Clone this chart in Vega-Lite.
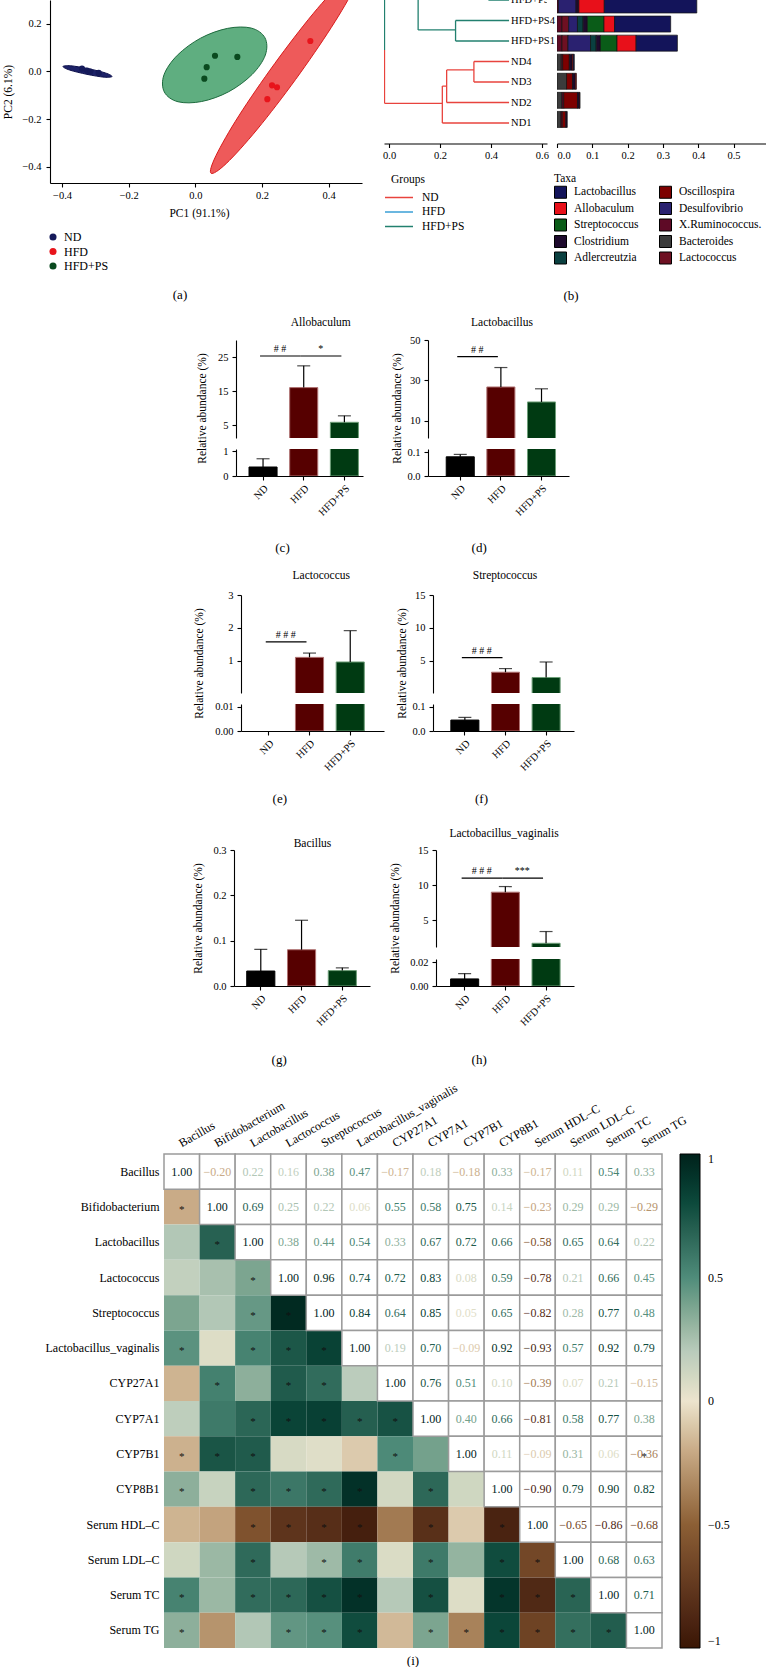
{
"$schema": "https://vega.github.io/schema/vega-lite/v6.json",
"padding": {"left": 0, "top": 0, "right": 0, "bottom": 0},
"config": {
 "font": "Liberation Serif",
 "view": {"stroke": null},
 "axis": {"labelFont": "Liberation Serif", "titleFont": "Liberation Serif", "labelFontSize": 10.5, "titleFontSize": 11.5, "titleFontWeight": "normal", "labelColor": "#000", "titleColor": "#000", "domainColor": "#000", "tickColor": "#000", "grid": false, "tickSize": 4, "labelPadding": 3, "titlePadding": 5, "domainWidth": 1.1, "tickWidth": 1.1},
 "legend": {"labelFont": "Liberation Serif", "titleFont": "Liberation Serif", "titleFontWeight": "normal", "labelFontSize": 11.5, "titleFontSize": 11.5, "labelColor": "#000", "titleColor": "#000"},
 "title": {"font": "Liberation Serif", "fontWeight": "normal", "fontSize": 13, "color": "#000"},
 "text": {"font": "Liberation Serif", "color": "#000"}
},
"datasets": {
 "pca": [
  {"g": "ND", "x": -0.34, "y": 0.012}, {"g": "ND", "x": -0.325, "y": 0.004}, {"g": "ND", "x": -0.315, "y": 0.0}, {"g": "ND", "x": -0.29, "y": -0.006},
  {"g": "HFD", "x": 0.216, "y": -0.116}, {"g": "HFD", "x": 0.23, "y": -0.058}, {"g": "HFD", "x": 0.245, "y": -0.066}, {"g": "HFD", "x": 0.345, "y": 0.128},
  {"g": "HFD+PS", "x": 0.027, "y": -0.03}, {"g": "HFD+PS", "x": 0.034, "y": 0.018}, {"g": "HFD+PS", "x": 0.059, "y": 0.066}, {"g": "HFD+PS", "x": 0.126, "y": 0.061}
 ],
 "ell": [
  {"g": "ND", "i": 0, "x": -0.25, "y": -0.021}, {"g": "ND", "i": 1, "x": -0.273, "y": -0.024}, {"g": "ND", "i": 2, "x": -0.325, "y": -0.012}, {"g": "ND", "i": 3, "x": -0.377, "y": 0.006},
  {"g": "ND", "i": 4, "x": -0.397, "y": 0.021}, {"g": "ND", "i": 5, "x": -0.374, "y": 0.024}, {"g": "ND", "i": 6, "x": -0.322, "y": 0.012}, {"g": "ND", "i": 7, "x": -0.27, "y": -0.006},
  {"g": "HFD", "i": 0, "x": 0.492, "y": 0.427}, {"g": "HFD", "i": 1, "x": 0.478, "y": 0.353}, {"g": "HFD", "i": 2, "x": 0.408, "y": 0.185}, {"g": "HFD", "i": 3, "x": 0.301, "y": -0.033},
  {"g": "HFD", "i": 4, "x": 0.186, "y": -0.242}, {"g": "HFD", "i": 5, "x": 0.093, "y": -0.386}, {"g": "HFD", "i": 6, "x": 0.047, "y": -0.427}, {"g": "HFD", "i": 7, "x": 0.062, "y": -0.353},
  {"g": "HFD", "i": 8, "x": 0.131, "y": -0.185}, {"g": "HFD", "i": 9, "x": 0.238, "y": 0.033}, {"g": "HFD", "i": 10, "x": 0.353, "y": 0.242}, {"g": "HFD", "i": 11, "x": 0.447, "y": 0.386},
  {"g": "HFD+PS", "i": 0, "x": 0.209, "y": 0.141}, {"g": "HFD+PS", "i": 1, "x": 0.21, "y": 0.069}, {"g": "HFD+PS", "i": 2, "x": 0.17, "y": -0.013}, {"g": "HFD+PS", "i": 3, "x": 0.1, "y": -0.085},
  {"g": "HFD+PS", "i": 4, "x": 0.019, "y": -0.126}, {"g": "HFD+PS", "i": 5, "x": -0.052, "y": -0.127}, {"g": "HFD+PS", "i": 6, "x": -0.093, "y": -0.086}, {"g": "HFD+PS", "i": 7, "x": -0.094, "y": -0.014},
  {"g": "HFD+PS", "i": 8, "x": -0.054, "y": 0.068}, {"g": "HFD+PS", "i": 9, "x": 0.016, "y": 0.14}, {"g": "HFD+PS", "i": 10, "x": 0.097, "y": 0.181}, {"g": "HFD+PS", "i": 11, "x": 0.168, "y": 0.182}
 ],
 "dend": [
  {"grp": "ND", "x": -0.018, "x2": -0.018, "y": 1.96, "y2": 4.56},
  {"grp": "ND", "x": -0.018, "x2": 0.209, "y": 1.96, "y2": 1.96},
  {"grp": "ND", "x": 0.209, "x2": 0.209, "y": 1, "y2": 2.8},
  {"grp": "ND", "x": 0.209, "x2": 0.471, "y": 1, "y2": 1},
  {"grp": "ND", "x": 0.209, "x2": 0.226, "y": 2.8, "y2": 2.8},
  {"grp": "ND", "x": 0.226, "x2": 0.226, "y": 2, "y2": 3.59},
  {"grp": "ND", "x": 0.226, "x2": 0.471, "y": 2, "y2": 2},
  {"grp": "ND", "x": 0.226, "x2": 0.333, "y": 3.59, "y2": 3.59},
  {"grp": "ND", "x": 0.333, "x2": 0.333, "y": 3, "y2": 4},
  {"grp": "ND", "x": 0.333, "x2": 0.471, "y": 3, "y2": 3},
  {"grp": "ND", "x": 0.333, "x2": 0.471, "y": 4, "y2": 4},
  {"grp": "HFD+PS", "x": -0.018, "x2": -0.018, "y": 4.56, "y2": 8},
  {"grp": "HFD+PS", "x": 0.114, "x2": 0.114, "y": 5.54, "y2": 8},
  {"grp": "HFD+PS", "x": 0.114, "x2": 0.261, "y": 5.54, "y2": 5.54},
  {"grp": "HFD+PS", "x": 0.261, "x2": 0.261, "y": 5, "y2": 6},
  {"grp": "HFD+PS", "x": 0.261, "x2": 0.471, "y": 5, "y2": 5},
  {"grp": "HFD+PS", "x": 0.261, "x2": 0.471, "y": 6, "y2": 6},
  {"grp": "HFD+PS", "x": 0.39, "x2": 0.471, "y": 7, "y2": 7}
 ],
 "leaves": [
  {"s": "HFD+PS2", "r": 7, "x": 0.471}, {"s": "HFD+PS4", "r": 6, "x": 0.471}, {"s": "HFD+PS1", "r": 5, "x": 0.471},
  {"s": "ND4", "r": 4, "x": 0.471}, {"s": "ND3", "r": 3, "x": 0.471}, {"s": "ND2", "r": 2, "x": 0.471}, {"s": "ND1", "r": 1, "x": 0.471}
 ],
 "taxa": [
  {"s": "ND1", "r": 1, "t": "Bacteroides", "a": 0.011, "k": 0}, {"s": "ND1", "r": 1, "t": "X.Ruminococcus.", "a": 0.004, "k": 1}, {"s": "ND1", "r": 1, "t": "Oscillospira", "a": 0.01, "k": 3}, {"s": "ND1", "r": 1, "t": "Clostridium", "a": 0.004, "k": 6},
  {"s": "ND2", "r": 2, "t": "Bacteroides", "a": 0.014, "k": 0}, {"s": "ND2", "r": 2, "t": "X.Ruminococcus.", "a": 0.005, "k": 1}, {"s": "ND2", "r": 2, "t": "Oscillospira", "a": 0.039, "k": 3}, {"s": "ND2", "r": 2, "t": "Clostridium", "a": 0.006, "k": 6}, {"s": "ND2", "r": 2, "t": "Allobaculum", "a": 0.001, "k": 8},
  {"s": "ND3", "r": 3, "t": "Bacteroides", "a": 0.027, "k": 0}, {"s": "ND3", "r": 3, "t": "Oscillospira", "a": 0.017, "k": 3}, {"s": "ND3", "r": 3, "t": "Clostridium", "a": 0.008, "k": 6}, {"s": "ND3", "r": 3, "t": "Allobaculum", "a": 0.003, "k": 8},
  {"s": "ND4", "r": 4, "t": "Bacteroides", "a": 0.012, "k": 0}, {"s": "ND4", "r": 4, "t": "X.Ruminococcus.", "a": 0.004, "k": 1}, {"s": "ND4", "r": 4, "t": "Oscillospira", "a": 0.019, "k": 3}, {"s": "ND4", "r": 4, "t": "Clostridium", "a": 0.008, "k": 6}, {"s": "ND4", "r": 4, "t": "Allobaculum", "a": 0.003, "k": 8}, {"s": "ND4", "r": 4, "t": "Lactobacillus", "a": 0.003, "k": 9},
  {"s": "HFD+PS1", "r": 5, "t": "X.Ruminococcus.", "a": 0.014, "k": 1}, {"s": "HFD+PS1", "r": 5, "t": "Lactococcus", "a": 0.017, "k": 2}, {"s": "HFD+PS1", "r": 5, "t": "Desulfovibrio", "a": 0.064, "k": 4}, {"s": "HFD+PS1", "r": 5, "t": "Adlercreutzia", "a": 0.016, "k": 5}, {"s": "HFD+PS1", "r": 5, "t": "Clostridium", "a": 0.012, "k": 6}, {"s": "HFD+PS1", "r": 5, "t": "Streptococcus", "a": 0.047, "k": 7}, {"s": "HFD+PS1", "r": 5, "t": "Allobaculum", "a": 0.054, "k": 8}, {"s": "HFD+PS1", "r": 5, "t": "Lactobacillus", "a": 0.117, "k": 9},
  {"s": "HFD+PS4", "r": 6, "t": "X.Ruminococcus.", "a": 0.014, "k": 1}, {"s": "HFD+PS4", "r": 6, "t": "Lactococcus", "a": 0.019, "k": 2}, {"s": "HFD+PS4", "r": 6, "t": "Desulfovibrio", "a": 0.025, "k": 4}, {"s": "HFD+PS4", "r": 6, "t": "Adlercreutzia", "a": 0.016, "k": 5}, {"s": "HFD+PS4", "r": 6, "t": "Clostridium", "a": 0.012, "k": 6}, {"s": "HFD+PS4", "r": 6, "t": "Streptococcus", "a": 0.047, "k": 7}, {"s": "HFD+PS4", "r": 6, "t": "Allobaculum", "a": 0.03, "k": 8}, {"s": "HFD+PS4", "r": 6, "t": "Lactobacillus", "a": 0.159, "k": 9},
  {"s": "HFD+PS2", "r": 7, "t": "X.Ruminococcus.", "a": 0.004, "k": 1}, {"s": "HFD+PS2", "r": 7, "t": "Desulfovibrio", "a": 0.05, "k": 4}, {"s": "HFD+PS2", "r": 7, "t": "Clostridium", "a": 0.008, "k": 6}, {"s": "HFD+PS2", "r": 7, "t": "Allobaculum", "a": 0.072, "k": 8}, {"s": "HFD+PS2", "r": 7, "t": "Lactobacillus", "a": 0.262, "k": 9}
 ],
 "bars": [
  {"p": "c", "g": "ND", "m": 0.36, "hi": 0.69}, {"p": "c", "g": "HFD", "m": 16.0, "hi": 22.4}, {"p": "c", "g": "HFD+PS", "m": 5.8, "hi": 7.7},
  {"p": "d", "g": "ND", "m": 0.08, "hi": 0.09}, {"p": "d", "g": "HFD", "m": 26.8, "hi": 36.4}, {"p": "d", "g": "HFD+PS", "m": 19.4, "hi": 25.9},
  {"p": "e", "g": "HFD", "m": 1.11, "hi": 1.24}, {"p": "e", "g": "HFD+PS", "m": 0.97, "hi": 1.92},
  {"p": "f", "g": "ND", "m": 0.045, "hi": 0.056}, {"p": "f", "g": "HFD", "m": 3.3, "hi": 3.85}, {"p": "f", "g": "HFD+PS", "m": 2.5, "hi": 4.85},
  {"p": "g", "g": "ND", "m": 0.033, "hi": 0.081}, {"p": "g", "g": "HFD", "m": 0.08, "hi": 0.145}, {"p": "g", "g": "HFD+PS", "m": 0.034, "hi": 0.04},
  {"p": "h", "g": "ND", "m": 0.006, "hi": 0.0105}, {"p": "h", "g": "HFD", "m": 9.0, "hi": 9.8}, {"p": "h", "g": "HFD+PS", "m": 1.73, "hi": 3.4}
 ],
 "sig": [
  {"p": "c", "from": "ND", "to": "HFD", "y": 25.3, "lab": "# #"}, {"p": "c", "from": "HFD", "to": "HFD+PS", "y": 25.3, "lab": "*"},
  {"p": "d", "from": "ND", "to": "HFD", "y": 41.8, "lab": "# #"},
  {"p": "e", "from": "ND", "to": "HFD", "y": 1.58, "lab": "# # #"},
  {"p": "f", "from": "ND", "to": "HFD", "y": 5.5, "lab": "# # #"},
  {"p": "h", "from": "ND", "to": "HFD", "y": 11.0, "lab": "# # #"}, {"p": "h", "from": "HFD", "to": "HFD+PS", "y": 11.0, "lab": "***"}
 ],
 "corr": [
  {"r":0,"c":0,"v":1},{"r":0,"c":1,"v":-0.2},{"r":0,"c":2,"v":0.22},{"r":0,"c":3,"v":0.16},{"r":0,"c":4,"v":0.38},{"r":0,"c":5,"v":0.47},{"r":0,"c":6,"v":-0.17},{"r":0,"c":7,"v":0.18},{"r":0,"c":8,"v":-0.18},{"r":0,"c":9,"v":0.33},{"r":0,"c":10,"v":-0.17},{"r":0,"c":11,"v":0.11},{"r":0,"c":12,"v":0.54},{"r":0,"c":13,"v":0.33},
  {"r":1,"c":0,"v":-0.2,"s":1},{"r":1,"c":1,"v":1},{"r":1,"c":2,"v":0.69},{"r":1,"c":3,"v":0.25},{"r":1,"c":4,"v":0.22},{"r":1,"c":5,"v":0.06},{"r":1,"c":6,"v":0.55},{"r":1,"c":7,"v":0.58},{"r":1,"c":8,"v":0.75},{"r":1,"c":9,"v":0.14},{"r":1,"c":10,"v":-0.23},{"r":1,"c":11,"v":0.29},{"r":1,"c":12,"v":0.29},{"r":1,"c":13,"v":-0.29},
  {"r":2,"c":0,"v":0.22},{"r":2,"c":1,"v":0.69,"s":1},{"r":2,"c":2,"v":1},{"r":2,"c":3,"v":0.38},{"r":2,"c":4,"v":0.44},{"r":2,"c":5,"v":0.54},{"r":2,"c":6,"v":0.33},{"r":2,"c":7,"v":0.67},{"r":2,"c":8,"v":0.72},{"r":2,"c":9,"v":0.66},{"r":2,"c":10,"v":-0.58},{"r":2,"c":11,"v":0.65},{"r":2,"c":12,"v":0.64},{"r":2,"c":13,"v":0.22},
  {"r":3,"c":0,"v":0.16},{"r":3,"c":1,"v":0.25},{"r":3,"c":2,"v":0.38,"s":1},{"r":3,"c":3,"v":1},{"r":3,"c":4,"v":0.96},{"r":3,"c":5,"v":0.74},{"r":3,"c":6,"v":0.72},{"r":3,"c":7,"v":0.83},{"r":3,"c":8,"v":0.08},{"r":3,"c":9,"v":0.59},{"r":3,"c":10,"v":-0.78},{"r":3,"c":11,"v":0.21},{"r":3,"c":12,"v":0.66},{"r":3,"c":13,"v":0.45},
  {"r":4,"c":0,"v":0.38},{"r":4,"c":1,"v":0.22},{"r":4,"c":2,"v":0.44,"s":1},{"r":4,"c":3,"v":0.96,"s":1},{"r":4,"c":4,"v":1},{"r":4,"c":5,"v":0.84},{"r":4,"c":6,"v":0.64},{"r":4,"c":7,"v":0.85},{"r":4,"c":8,"v":0.05},{"r":4,"c":9,"v":0.65},{"r":4,"c":10,"v":-0.82},{"r":4,"c":11,"v":0.28},{"r":4,"c":12,"v":0.77},{"r":4,"c":13,"v":0.48},
  {"r":5,"c":0,"v":0.47,"s":1},{"r":5,"c":1,"v":0.06},{"r":5,"c":2,"v":0.54,"s":1},{"r":5,"c":3,"v":0.74,"s":1},{"r":5,"c":4,"v":0.84,"s":1},{"r":5,"c":5,"v":1},{"r":5,"c":6,"v":0.19},{"r":5,"c":7,"v":0.7},{"r":5,"c":8,"v":-0.09},{"r":5,"c":9,"v":0.92},{"r":5,"c":10,"v":-0.93},{"r":5,"c":11,"v":0.57},{"r":5,"c":12,"v":0.92},{"r":5,"c":13,"v":0.79},
  {"r":6,"c":0,"v":-0.17},{"r":6,"c":1,"v":0.55,"s":1},{"r":6,"c":2,"v":0.33},{"r":6,"c":3,"v":0.72,"s":1},{"r":6,"c":4,"v":0.64,"s":1},{"r":6,"c":5,"v":0.19},{"r":6,"c":6,"v":1},{"r":6,"c":7,"v":0.76},{"r":6,"c":8,"v":0.51},{"r":6,"c":9,"v":0.1},{"r":6,"c":10,"v":-0.39},{"r":6,"c":11,"v":0.07},{"r":6,"c":12,"v":0.21},{"r":6,"c":13,"v":-0.15},
  {"r":7,"c":0,"v":0.18},{"r":7,"c":1,"v":0.58},{"r":7,"c":2,"v":0.67,"s":1},{"r":7,"c":3,"v":0.83,"s":1},{"r":7,"c":4,"v":0.85,"s":1},{"r":7,"c":5,"v":0.7,"s":1},{"r":7,"c":6,"v":0.76,"s":1},{"r":7,"c":7,"v":1},{"r":7,"c":8,"v":0.4},{"r":7,"c":9,"v":0.66},{"r":7,"c":10,"v":-0.81},{"r":7,"c":11,"v":0.58},{"r":7,"c":12,"v":0.77},{"r":7,"c":13,"v":0.38},
  {"r":8,"c":0,"v":-0.18,"s":1},{"r":8,"c":1,"v":0.75,"s":1},{"r":8,"c":2,"v":0.72,"s":1},{"r":8,"c":3,"v":0.08},{"r":8,"c":4,"v":0.05},{"r":8,"c":5,"v":-0.09},{"r":8,"c":6,"v":0.51,"s":1},{"r":8,"c":7,"v":0.4},{"r":8,"c":8,"v":1},{"r":8,"c":9,"v":0.11},{"r":8,"c":10,"v":-0.09},{"r":8,"c":11,"v":0.31},{"r":8,"c":12,"v":0.06},{"r":8,"c":13,"v":-0.36,"s":1},
  {"r":9,"c":0,"v":0.33,"s":1},{"r":9,"c":1,"v":0.14},{"r":9,"c":2,"v":0.66,"s":1},{"r":9,"c":3,"v":0.59,"s":1},{"r":9,"c":4,"v":0.65,"s":1},{"r":9,"c":5,"v":0.92,"s":1},{"r":9,"c":6,"v":0.1},{"r":9,"c":7,"v":0.66,"s":1},{"r":9,"c":8,"v":0.11},{"r":9,"c":9,"v":1},{"r":9,"c":10,"v":-0.9},{"r":9,"c":11,"v":0.79},{"r":9,"c":12,"v":0.9},{"r":9,"c":13,"v":0.82},
  {"r":10,"c":0,"v":-0.17},{"r":10,"c":1,"v":-0.23},{"r":10,"c":2,"v":-0.58,"s":1},{"r":10,"c":3,"v":-0.78,"s":1},{"r":10,"c":4,"v":-0.82,"s":1},{"r":10,"c":5,"v":-0.93,"s":1},{"r":10,"c":6,"v":-0.39},{"r":10,"c":7,"v":-0.81,"s":1},{"r":10,"c":8,"v":-0.09},{"r":10,"c":9,"v":-0.9,"s":1},{"r":10,"c":10,"v":1},{"r":10,"c":11,"v":-0.65},{"r":10,"c":12,"v":-0.86},{"r":10,"c":13,"v":-0.68},
  {"r":11,"c":0,"v":0.11},{"r":11,"c":1,"v":0.29},{"r":11,"c":2,"v":0.65,"s":1},{"r":11,"c":3,"v":0.21},{"r":11,"c":4,"v":0.28,"s":1},{"r":11,"c":5,"v":0.57,"s":1},{"r":11,"c":6,"v":0.07},{"r":11,"c":7,"v":0.58,"s":1},{"r":11,"c":8,"v":0.31},{"r":11,"c":9,"v":0.79,"s":1},{"r":11,"c":10,"v":-0.65,"s":1},{"r":11,"c":11,"v":1},{"r":11,"c":12,"v":0.68},{"r":11,"c":13,"v":0.63},
  {"r":12,"c":0,"v":0.54,"s":1},{"r":12,"c":1,"v":0.29},{"r":12,"c":2,"v":0.64,"s":1},{"r":12,"c":3,"v":0.66,"s":1},{"r":12,"c":4,"v":0.77,"s":1},{"r":12,"c":5,"v":0.92,"s":1},{"r":12,"c":6,"v":0.21},{"r":12,"c":7,"v":0.77,"s":1},{"r":12,"c":8,"v":0.06},{"r":12,"c":9,"v":0.9,"s":1},{"r":12,"c":10,"v":-0.86,"s":1},{"r":12,"c":11,"v":0.68,"s":1},{"r":12,"c":12,"v":1},{"r":12,"c":13,"v":0.71},
  {"r":13,"c":0,"v":0.33,"s":1},{"r":13,"c":1,"v":-0.29},{"r":13,"c":2,"v":0.22},{"r":13,"c":3,"v":0.45,"s":1},{"r":13,"c":4,"v":0.48,"s":1},{"r":13,"c":5,"v":0.79,"s":1},{"r":13,"c":6,"v":-0.15},{"r":13,"c":7,"v":0.38,"s":1},{"r":13,"c":8,"v":-0.36,"s":1},{"r":13,"c":9,"v":0.82,"s":1},{"r":13,"c":10,"v":-0.68,"s":1},{"r":13,"c":11,"v":0.63,"s":1},{"r":13,"c":12,"v":0.71,"s":1},{"r":13,"c":13,"v":1}
 ]
},
"resolve": {"scale": {"x": "independent", "y": "independent", "color": "independent", "stroke": "independent"}},
"spacing": 0,
"vconcat": [
 {
  "hconcat": [
   {"width": 1, "height": 1, "data": {"values": []}, "mark": "point"},
   {
    "width": 312, "height": 183,
    "title": {"text": "(a)", "orient": "bottom", "frame": "group", "offset": 2, "dx": -26},
    "layer": [
     {"data": {"name": "ell"}, "transform": [{"filter": "datum.g=='ND'"}], "mark": {"type": "line", "interpolate": "cardinal-closed", "fill": "#1d2268", "stroke": "#0c0f4a", "strokeWidth": 1, "clip": true},
      "encoding": {"x": {"field": "x", "type": "quantitative", "scale": {"domain": [-0.436, 0.5], "nice": false, "zero": false}, "axis": {"values": [-0.4, -0.3, -0.2, -0.1, 0, 0.1, 0.2, 0.3, 0.4], "format": ".1f", "title": "PC1 (91.1%)", "labelPadding": 3, "titleX": 149, "titleY": 24, "minExtent": 104}},
       "y": {"field": "y", "type": "quantitative", "scale": {"domain": [-0.468, 0.3], "nice": false, "zero": false}, "axis": {"values": [-0.4, -0.3, -0.2, -0.1, 0, 0.1, 0.2, 0.3], "format": ".1f", "title": "PC2 (6.1%)", "labelFlush": true, "labelPadding": 5, "titleX": -37, "titleY": 91.5, "minExtent": 49}},
       "order": {"field": "i", "type": "quantitative"}}},
     {"data": {"name": "ell"}, "transform": [{"filter": "datum.g=='HFD'"}], "mark": {"type": "line", "interpolate": "cardinal-closed", "fill": "#ee5a5a", "stroke": "#d81c1c", "strokeWidth": 1, "clip": true},
      "encoding": {"x": {"field": "x", "type": "quantitative"}, "y": {"field": "y", "type": "quantitative"}, "order": {"field": "i", "type": "quantitative"}}},
     {"data": {"name": "ell"}, "transform": [{"filter": "datum.g=='HFD+PS'"}], "mark": {"type": "line", "interpolate": "cardinal-closed", "fill": "#5fae80", "stroke": "#1e6b3e", "strokeWidth": 1, "clip": true},
      "encoding": {"x": {"field": "x", "type": "quantitative"}, "y": {"field": "y", "type": "quantitative"}, "order": {"field": "i", "type": "quantitative"}}},
     {"data": {"name": "pca"}, "mark": {"type": "circle", "size": 38, "opacity": 1, "clip": true},
      "encoding": {"x": {"field": "x", "type": "quantitative"}, "y": {"field": "y", "type": "quantitative"},
       "color": {"field": "g", "type": "nominal", "scale": {"domain": ["ND", "HFD", "HFD+PS"], "range": ["#151a5a", "#e8141b", "#0a4a1f"]},
        "legend": {"orient": "none", "legendX": -3, "legendY": 231, "title": null, "symbolType": "circle", "symbolSize": 50, "labelFontSize": 12, "rowPadding": 2.5, "labelOffset": 5}}}}
    ]
   },
   {
    "hconcat": [
     {
      "width": 163, "height": 143.5,
      "layer": [
       {"data": {"name": "dend"}, "mark": {"type": "rule", "clip": true, "strokeWidth": 1.3},
        "encoding": {"x": {"field": "x", "type": "quantitative", "scale": {"domain": [-0.02, 0.62], "nice": false, "zero": false}, "axis": {"values": [0, 0.2, 0.4, 0.6], "format": ".1f", "title": null, "labelPadding": 3}},
         "x2": {"field": "x2"},
         "y": {"field": "y", "type": "quantitative", "scale": {"domain": [0, 7], "nice": false, "zero": false}, "axis": {"labels": false, "ticks": false, "domain": false, "title": null, "minExtent": 22}},
         "y2": {"field": "y2"},
         "color": {"field": "grp", "type": "nominal", "scale": {"domain": ["ND", "HFD", "HFD+PS"], "range": ["#e8433d", "#3a9fd6", "#22806f"]},
          "legend": {"orient": "none", "legendX": 7, "legendY": 174, "title": "Groups", "symbolType": "M-2,0H2", "symbolSize": 196, "symbolStrokeWidth": 1.5, "labelOffset": 15, "rowPadding": 0.5, "titlePadding": 4}}}},
       {"data": {"name": "leaves"}, "transform": [{"filter": "datum.r<7"}], "mark": {"type": "text", "align": "left", "baseline": "middle", "dx": 2, "fontSize": 10.5},
        "encoding": {"x": {"field": "x", "type": "quantitative"}, "y": {"field": "r", "type": "quantitative"}, "text": {"field": "s"}}},
       {"data": {"name": "leaves"}, "transform": [{"filter": "datum.r>=7"}], "mark": {"type": "text", "align": "left", "baseline": "middle", "dx": 2, "fontSize": 10.5, "clip": true},
        "encoding": {"x": {"field": "x", "type": "quantitative"}, "y": {"field": "r", "type": "quantitative"}, "text": {"field": "s"}}}
      ]
     },
     {
      "width": 209, "height": 143.5,
      "title": {"text": "(b)", "orient": "bottom", "frame": "group", "offset": -24, "dx": -90.5},
      "data": {"name": "taxa"},
      "mark": {"type": "bar", "orient": "horizontal", "size": 16, "clip": true, "stroke": "#111", "strokeWidth": 0.7},
      "encoding": {
       "x": {"field": "a", "type": "quantitative", "stack": "zero", "scale": {"domain": [0, 0.592], "nice": false}, "axis": {"values": [0, 0.1, 0.2, 0.3, 0.4, 0.5], "format": ".1f", "labelPadding": 3, "title": null, "minExtent": 170.5}},
       "y": {"field": "r", "type": "quantitative", "scale": {"domain": [0, 7], "nice": false, "zero": false}, "axis": null},
       "order": {"field": "k", "type": "quantitative"},
       "color": {"field": "t", "type": "nominal",
        "scale": {"domain": ["Lactobacillus", "Allobaculum", "Streptococcus", "Clostridium", "Adlercreutzia", "Oscillospira", "Desulfovibrio", "X.Ruminococcus.", "Bacteroides", "Lactococcus"],
                  "range": ["#13145a", "#e8101a", "#0a5c18", "#1e0a2d", "#0a4040", "#7d0000", "#2a2170", "#5e0a26", "#3b3b3b", "#6e1022"]},
        "legend": {"orient": "none", "legendX": -3, "legendY": 173, "title": "Taxa", "columns": 2, "symbolType": "square", "symbolSize": 144, "symbolStrokeColor": "#000", "symbolStrokeWidth": 1, "labelOffset": 7, "columnPadding": 18, "rowPadding": -0.5, "titlePadding": 1}}
      }
     }
    ],
    "spacing": 10, "bounds": "flush",
    "resolve": {"scale": {"x": "independent", "y": "independent", "color": "independent", "stroke": "independent"}}
   }
  ],
  "spacing": 0,
  "resolve": {"scale": {"x": "independent", "y": "independent", "color": "independent", "stroke": "independent"}}
 },
 {
  "hconcat": [
   {"width": 188, "height": 1, "data": {"values": []}, "mark": "point"},
   {
    "vconcat": [
     {
      "width": 127, "height": 98,
      "title": {"text": "Allobaculum", "orient": "top", "frame": "group", "fontSize": 11.5, "offset": -14, "dx": 21.25},
      "data": {"name": "bars"}, "transform": [{"filter": "datum.p=='c'"}],
      "encoding": {"x": {"field": "g", "type": "nominal", "scale": {"domain": ["ND", "HFD", "HFD+PS"], "paddingInner": 0.31, "paddingOuter": 0.216, "align": 0.74}, "axis": {"orient": "top", "labels": false, "ticks": false, "domain": false, "title": null, "minExtent": 26}}},
      "layer": [
       {"mark": {"type": "bar", "clip": true, "strokeWidth": 1},
        "encoding": {"y": {"field": "m", "type": "quantitative", "scale": {"domain": [1.18, 30], "nice": false, "zero": false}, "axis": {"values": [5, 10, 15, 20, 25, 30], "title": "Relative abundance (%)", "titleX": -29, "titleY": 68, "labelPadding": 4, "minExtent": 48}},
         "color": {"field": "g", "type": "nominal", "scale": {"domain": ["ND", "HFD", "HFD+PS"], "range": ["#000000", "#560000", "#003a12"]}, "legend": null},
         "stroke": {"field": "g", "type": "nominal", "scale": {"domain": ["ND", "HFD", "HFD+PS"], "range": ["#000000", "#b07272", "#6e9e78"]}, "legend": null}}},
       {"mark": {"type": "rule", "clip": true, "color": "#000", "strokeWidth": 1.2}, "encoding": {"y": {"field": "m", "type": "quantitative"}, "y2": {"field": "hi"}}},
       {"mark": {"type": "tick", "clip": true, "color": "#000", "size": 13, "thickness": 1.2}, "encoding": {"y": {"field": "hi", "type": "quantitative"}}},
       {"data": {"name": "sig"}, "transform": [{"filter": "datum.p=='c'"}], "mark": {"type": "rule", "color": "#000", "strokeWidth": 1.2, "xOffset": -3, "x2Offset": -3},
        "encoding": {"x": {"field": "from", "type": "nominal"}, "x2": {"field": "to"}, "y": {"field": "y", "type": "quantitative"}}},
       {"data": {"name": "sig"}, "transform": [{"filter": "datum.p=='c'"}], "mark": {"type": "text", "dx": 17, "dy": -2, "baseline": "bottom", "fontSize": 10},
        "encoding": {"x": {"field": "from", "type": "nominal"}, "y": {"field": "y", "type": "quantitative"}, "text": {"field": "lab"}}}
      ]
     },
     {
      "width": 127, "height": 27,
      "data": {"name": "bars"}, "transform": [{"filter": "datum.p=='c'"}],
      "encoding": {"x": {"field": "g", "type": "nominal", "scale": {"domain": ["ND", "HFD", "HFD+PS"], "paddingInner": 0.31, "paddingOuter": 0.216, "align": 0.74}, "axis": {"labelAngle": -45, "title": "(c)", "titleFontSize": 13, "titleX": 46, "titleY": 65, "minExtent": 92.5}}},
      "layer": [
       {"mark": {"type": "bar", "clip": true, "strokeWidth": 1},
        "encoding": {"y": {"field": "m", "type": "quantitative", "scale": {"domain": [0, 1.08], "nice": false}, "axis": {"values": [0, 1], "title": null, "labelPadding": 4}},
         "color": {"field": "g", "type": "nominal", "scale": {"domain": ["ND", "HFD", "HFD+PS"], "range": ["#000000", "#560000", "#003a12"]}, "legend": null},
         "stroke": {"field": "g", "type": "nominal", "scale": {"domain": ["ND", "HFD", "HFD+PS"], "range": ["#000000", "#b07272", "#6e9e78"]}, "legend": null}}},
       {"mark": {"type": "rule", "clip": true, "color": "#000", "strokeWidth": 1.2}, "encoding": {"y": {"field": "m", "type": "quantitative"}, "y2": {"field": "hi"}}},
       {"mark": {"type": "tick", "clip": true, "color": "#000", "size": 13, "thickness": 1.2}, "encoding": {"y": {"field": "hi", "type": "quantitative"}}}
      ]
     }
    ],
    "spacing": 11, "bounds": "flush",
    "resolve": {"scale": {"x": "independent", "y": "independent", "color": "independent", "stroke": "independent"}}
   },
   {
    "vconcat": [
     {
      "width": 141, "height": 98,
      "title": {"text": "Lactobacillus", "orient": "top", "frame": "group", "fontSize": 11.5, "offset": -14, "dx": 3.5},
      "data": {"name": "bars"}, "transform": [{"filter": "datum.p=='d'"}],
      "encoding": {"x": {"field": "g", "type": "nominal", "scale": {"domain": ["ND", "HFD", "HFD+PS"], "paddingInner": 0.31, "paddingOuter": 0.39, "align": 0.575}, "axis": {"orient": "top", "labels": false, "ticks": false, "domain": false, "title": null, "minExtent": 26}}},
      "layer": [
       {"mark": {"type": "bar", "clip": true, "strokeWidth": 1},
        "encoding": {"y": {"field": "m", "type": "quantitative", "scale": {"domain": [1.6, 50], "nice": false, "zero": false}, "axis": {"values": [10, 20, 30, 40, 50], "title": "Relative abundance (%)", "titleX": -26, "titleY": 68, "labelPadding": 4, "minExtent": 65}},
         "color": {"field": "g", "type": "nominal", "scale": {"domain": ["ND", "HFD", "HFD+PS"], "range": ["#000000", "#560000", "#003a12"]}, "legend": null},
         "stroke": {"field": "g", "type": "nominal", "scale": {"domain": ["ND", "HFD", "HFD+PS"], "range": ["#000000", "#b07272", "#6e9e78"]}, "legend": null}}},
       {"mark": {"type": "rule", "clip": true, "color": "#000", "strokeWidth": 1.2}, "encoding": {"y": {"field": "m", "type": "quantitative"}, "y2": {"field": "hi"}}},
       {"mark": {"type": "tick", "clip": true, "color": "#000", "size": 13, "thickness": 1.2}, "encoding": {"y": {"field": "hi", "type": "quantitative"}}},
       {"data": {"name": "sig"}, "transform": [{"filter": "datum.p=='d'"}], "mark": {"type": "rule", "color": "#000", "strokeWidth": 1.2, "xOffset": -3, "x2Offset": -3},
        "encoding": {"x": {"field": "from", "type": "nominal"}, "x2": {"field": "to"}, "y": {"field": "y", "type": "quantitative"}}},
       {"data": {"name": "sig"}, "transform": [{"filter": "datum.p=='d'"}], "mark": {"type": "text", "dx": 17, "dy": -2, "baseline": "bottom", "fontSize": 10},
        "encoding": {"x": {"field": "from", "type": "nominal"}, "y": {"field": "y", "type": "quantitative"}, "text": {"field": "lab"}}}
      ]
     },
     {
      "width": 141, "height": 27,
      "data": {"name": "bars"}, "transform": [{"filter": "datum.p=='d'"}],
      "encoding": {"x": {"field": "g", "type": "nominal", "scale": {"domain": ["ND", "HFD", "HFD+PS"], "paddingInner": 0.31, "paddingOuter": 0.39, "align": 0.575}, "axis": {"labelAngle": -45, "title": "(d)", "titleFontSize": 13, "titleX": 50.7, "titleY": 65, "minExtent": 92.5}}},
      "layer": [
       {"mark": {"type": "bar", "clip": true, "strokeWidth": 1},
        "encoding": {"y": {"field": "m", "type": "quantitative", "scale": {"domain": [0, 0.1125], "nice": false}, "axis": {"values": [0, 0.1], "format": ".1f", "title": null, "labelPadding": 4}},
         "color": {"field": "g", "type": "nominal", "scale": {"domain": ["ND", "HFD", "HFD+PS"], "range": ["#000000", "#560000", "#003a12"]}, "legend": null},
         "stroke": {"field": "g", "type": "nominal", "scale": {"domain": ["ND", "HFD", "HFD+PS"], "range": ["#000000", "#b07272", "#6e9e78"]}, "legend": null}}},
       {"mark": {"type": "rule", "clip": true, "color": "#000", "strokeWidth": 1.2}, "encoding": {"y": {"field": "m", "type": "quantitative"}, "y2": {"field": "hi"}}},
       {"mark": {"type": "tick", "clip": true, "color": "#000", "size": 13, "thickness": 1.2}, "encoding": {"y": {"field": "hi", "type": "quantitative"}}}
      ]
     }
    ],
    "spacing": 11, "bounds": "flush",
    "resolve": {"scale": {"x": "independent", "y": "independent", "color": "independent", "stroke": "independent"}}
   }
  ],
  "spacing": 0,
  "resolve": {"scale": {"x": "independent", "y": "independent", "color": "independent", "stroke": "independent"}}
 },
 {
  "hconcat": [
   {"width": 192, "height": 1, "data": {"values": []}, "mark": "point"},
   {
    "vconcat": [
     {
      "width": 143, "height": 98,
      "title": {"text": "Lactococcus", "orient": "top", "frame": "group", "fontSize": 11.5, "offset": -12.5, "dx": 8.75},
      "data": {"name": "bars"}, "transform": [{"filter": "datum.p=='e'"}],
      "encoding": {"x": {"field": "g", "type": "nominal", "scale": {"domain": ["ND", "HFD", "HFD+PS"], "paddingInner": 0.31, "paddingOuter": 0.41, "align": 0.41}, "axis": {"orient": "top", "labels": false, "ticks": false, "domain": false, "title": null, "minExtent": 26}}},
      "layer": [
       {"mark": {"type": "bar", "clip": true, "strokeWidth": 1},
        "encoding": {"y": {"field": "m", "type": "quantitative", "scale": {"domain": [0.03, 3], "nice": false, "zero": false}, "axis": {"values": [1, 2, 3], "title": "Relative abundance (%)", "titleX": -37, "titleY": 68, "labelPadding": 4, "minExtent": 49}},
         "color": {"field": "g", "type": "nominal", "scale": {"domain": ["ND", "HFD", "HFD+PS"], "range": ["#000000", "#560000", "#003a12"]}, "legend": null},
         "stroke": {"field": "g", "type": "nominal", "scale": {"domain": ["ND", "HFD", "HFD+PS"], "range": ["#000000", "#b07272", "#6e9e78"]}, "legend": null}}},
       {"mark": {"type": "rule", "clip": true, "color": "#000", "strokeWidth": 1.2}, "encoding": {"y": {"field": "m", "type": "quantitative"}, "y2": {"field": "hi"}}},
       {"mark": {"type": "tick", "clip": true, "color": "#000", "size": 13, "thickness": 1.2}, "encoding": {"y": {"field": "hi", "type": "quantitative"}}},
       {"data": {"name": "sig"}, "transform": [{"filter": "datum.p=='e'"}], "mark": {"type": "rule", "color": "#000", "strokeWidth": 1.2, "xOffset": -3, "x2Offset": -3},
        "encoding": {"x": {"field": "from", "type": "nominal"}, "x2": {"field": "to"}, "y": {"field": "y", "type": "quantitative"}}},
       {"data": {"name": "sig"}, "transform": [{"filter": "datum.p=='e'"}], "mark": {"type": "text", "dx": 17, "dy": -2, "baseline": "bottom", "fontSize": 10},
        "encoding": {"x": {"field": "from", "type": "nominal"}, "y": {"field": "y", "type": "quantitative"}, "text": {"field": "lab"}}}
      ]
     },
     {
      "width": 143, "height": 27,
      "data": {"name": "bars"}, "transform": [{"filter": "datum.p=='e'"}],
      "encoding": {"x": {"field": "g", "type": "nominal", "scale": {"domain": ["ND", "HFD", "HFD+PS"], "paddingInner": 0.31, "paddingOuter": 0.41, "align": 0.41}, "axis": {"labelAngle": -45, "title": "(e)", "titleFontSize": 13, "titleX": 38.3, "titleY": 61, "minExtent": 92.5}}},
      "layer": [
       {"mark": {"type": "bar", "clip": true, "strokeWidth": 1},
        "encoding": {"y": {"field": "m", "type": "quantitative", "scale": {"domain": [0, 0.0111], "nice": false}, "axis": {"values": [0, 0.01], "format": ".2f", "title": null, "labelPadding": 4}},
         "color": {"field": "g", "type": "nominal", "scale": {"domain": ["ND", "HFD", "HFD+PS"], "range": ["#000000", "#560000", "#003a12"]}, "legend": null},
         "stroke": {"field": "g", "type": "nominal", "scale": {"domain": ["ND", "HFD", "HFD+PS"], "range": ["#000000", "#b07272", "#6e9e78"]}, "legend": null}}},
       {"mark": {"type": "rule", "clip": true, "color": "#000", "strokeWidth": 1.2}, "encoding": {"y": {"field": "m", "type": "quantitative"}, "y2": {"field": "hi"}}},
       {"mark": {"type": "tick", "clip": true, "color": "#000", "size": 13, "thickness": 1.2}, "encoding": {"y": {"field": "hi", "type": "quantitative"}}}
      ]
     }
    ],
    "spacing": 11, "bounds": "flush",
    "resolve": {"scale": {"x": "independent", "y": "independent", "color": "independent", "stroke": "independent"}}
   },
   {
    "vconcat": [
     {
      "width": 141, "height": 98,
      "title": {"text": "Streptococcus", "orient": "top", "frame": "group", "fontSize": 11.5, "offset": -12.5, "dx": 1.5},
      "data": {"name": "bars"}, "transform": [{"filter": "datum.p=='f'"}],
      "encoding": {"x": {"field": "g", "type": "nominal", "scale": {"domain": ["ND", "HFD", "HFD+PS"], "paddingInner": 0.31, "paddingOuter": 0.39, "align": 0.563}, "axis": {"orient": "top", "labels": false, "ticks": false, "domain": false, "title": null, "minExtent": 26}}},
      "layer": [
       {"mark": {"type": "bar", "clip": true, "strokeWidth": 1},
        "encoding": {"y": {"field": "m", "type": "quantitative", "scale": {"domain": [0.15, 15], "nice": false, "zero": false}, "axis": {"values": [5, 10, 15], "title": "Relative abundance (%)", "titleX": -26, "titleY": 68, "labelPadding": 4, "minExtent": 49}},
         "color": {"field": "g", "type": "nominal", "scale": {"domain": ["ND", "HFD", "HFD+PS"], "range": ["#000000", "#560000", "#003a12"]}, "legend": null},
         "stroke": {"field": "g", "type": "nominal", "scale": {"domain": ["ND", "HFD", "HFD+PS"], "range": ["#000000", "#b07272", "#6e9e78"]}, "legend": null}}},
       {"mark": {"type": "rule", "clip": true, "color": "#000", "strokeWidth": 1.2}, "encoding": {"y": {"field": "m", "type": "quantitative"}, "y2": {"field": "hi"}}},
       {"mark": {"type": "tick", "clip": true, "color": "#000", "size": 13, "thickness": 1.2}, "encoding": {"y": {"field": "hi", "type": "quantitative"}}},
       {"data": {"name": "sig"}, "transform": [{"filter": "datum.p=='f'"}], "mark": {"type": "rule", "color": "#000", "strokeWidth": 1.2, "xOffset": -3, "x2Offset": -3},
        "encoding": {"x": {"field": "from", "type": "nominal"}, "x2": {"field": "to"}, "y": {"field": "y", "type": "quantitative"}}},
       {"data": {"name": "sig"}, "transform": [{"filter": "datum.p=='f'"}], "mark": {"type": "text", "dx": 17, "dy": -2, "baseline": "bottom", "fontSize": 10},
        "encoding": {"x": {"field": "from", "type": "nominal"}, "y": {"field": "y", "type": "quantitative"}, "text": {"field": "lab"}}}
      ]
     },
     {
      "width": 141, "height": 27,
      "data": {"name": "bars"}, "transform": [{"filter": "datum.p=='f'"}],
      "encoding": {"x": {"field": "g", "type": "nominal", "scale": {"domain": ["ND", "HFD", "HFD+PS"], "paddingInner": 0.31, "paddingOuter": 0.39, "align": 0.563}, "axis": {"labelAngle": -45, "title": "(f)", "titleFontSize": 13, "titleX": 48, "titleY": 61, "minExtent": 92.5}}},
      "layer": [
       {"mark": {"type": "bar", "clip": true, "strokeWidth": 1},
        "encoding": {"y": {"field": "m", "type": "quantitative", "scale": {"domain": [0, 0.111], "nice": false}, "axis": {"values": [0, 0.1], "format": ".1f", "title": null, "labelPadding": 4}},
         "color": {"field": "g", "type": "nominal", "scale": {"domain": ["ND", "HFD", "HFD+PS"], "range": ["#000000", "#560000", "#003a12"]}, "legend": null},
         "stroke": {"field": "g", "type": "nominal", "scale": {"domain": ["ND", "HFD", "HFD+PS"], "range": ["#000000", "#b07272", "#6e9e78"]}, "legend": null}}},
       {"mark": {"type": "rule", "clip": true, "color": "#000", "strokeWidth": 1.2}, "encoding": {"y": {"field": "m", "type": "quantitative"}, "y2": {"field": "hi"}}},
       {"mark": {"type": "tick", "clip": true, "color": "#000", "size": 13, "thickness": 1.2}, "encoding": {"y": {"field": "hi", "type": "quantitative"}}}
      ]
     }
    ],
    "spacing": 11, "bounds": "flush",
    "resolve": {"scale": {"x": "independent", "y": "independent", "color": "independent", "stroke": "independent"}}
   }
  ],
  "spacing": 0,
  "resolve": {"scale": {"x": "independent", "y": "independent", "color": "independent", "stroke": "independent"}}
 },
 {
  "hconcat": [
   {"width": 186, "height": 1, "data": {"values": []}, "mark": "point"},
   {
    "width": 136, "height": 136,
    "title": {"text": "Bacillus", "orient": "top", "frame": "group", "fontSize": 11.5, "offset": -25, "dx": 10.5},
    "data": {"name": "bars"}, "transform": [{"filter": "datum.p=='g'"}],
    "resolve": {"scale": {"x": "independent"}},
    "layer": [
     {"mark": {"type": "bar", "clip": true, "strokeWidth": 1},
      "encoding": {"x": {"field": "g", "type": "nominal", "scale": {"domain": ["ND", "HFD", "HFD+PS"], "paddingInner": 0.31, "paddingOuter": 0.323, "align": 0.483}, "axis": {"labelAngle": -45, "title": "(g)", "titleFontSize": 13, "titleX": 44.7, "titleY": 67, "minExtent": 88}},
       "y": {"field": "m", "type": "quantitative", "scale": {"domain": [0, 0.3], "nice": false}, "axis": {"values": [0, 0.1, 0.2, 0.3], "format": ".1f", "title": "Relative abundance (%)", "titleX": -31, "titleY": 68, "labelPadding": 4, "minExtent": 48}},
       "color": {"field": "g", "type": "nominal", "scale": {"domain": ["ND", "HFD", "HFD+PS"], "range": ["#000000", "#560000", "#003a12"]}, "legend": null},
       "stroke": {"field": "g", "type": "nominal", "scale": {"domain": ["ND", "HFD", "HFD+PS"], "range": ["#000000", "#b07272", "#6e9e78"]}, "legend": null}}},
     {"mark": {"type": "rule", "clip": true, "color": "#000", "strokeWidth": 1.2},
      "encoding": {"x": {"field": "g", "type": "nominal", "scale": {"domain": ["ND", "HFD", "HFD+PS"], "paddingInner": 0.31, "paddingOuter": 0.323, "align": 0.483}, "axis": {"orient": "top", "labels": false, "ticks": false, "domain": false, "title": null, "minExtent": 26}},
       "y": {"field": "m", "type": "quantitative"}, "y2": {"field": "hi"}}},
     {"mark": {"type": "tick", "clip": true, "color": "#000", "size": 13, "thickness": 1.2},
      "encoding": {"x": {"field": "g", "type": "nominal", "scale": {"domain": ["ND", "HFD", "HFD+PS"], "paddingInner": 0.31, "paddingOuter": 0.323, "align": 0.483}, "axis": null},
       "y": {"field": "hi", "type": "quantitative"}}}
    ]
   },
   {
    "vconcat": [
     {
      "width": 138, "height": 97,
      "title": {"text": "Lactobacillus_vaginalis", "orient": "top", "frame": "group", "fontSize": 11.5, "offset": -15, "dx": -1},
      "data": {"name": "bars"}, "transform": [{"filter": "datum.p=='h'"}],
      "encoding": {"x": {"field": "g", "type": "nominal", "scale": {"domain": ["ND", "HFD", "HFD+PS"], "paddingInner": 0.31, "paddingOuter": 0.35, "align": 0.512}, "axis": {"orient": "top", "labels": false, "ticks": false, "domain": false, "title": null, "minExtent": 26}}},
      "layer": [
       {"mark": {"type": "bar", "clip": true, "strokeWidth": 1},
        "encoding": {"y": {"field": "m", "type": "quantitative", "scale": {"domain": [1.2, 15], "nice": false, "zero": false}, "axis": {"values": [5, 10, 15], "title": "Relative abundance (%)", "titleX": -36, "titleY": 68, "labelPadding": 4, "minExtent": 66}},
         "color": {"field": "g", "type": "nominal", "scale": {"domain": ["ND", "HFD", "HFD+PS"], "range": ["#000000", "#560000", "#003a12"]}, "legend": null},
         "stroke": {"field": "g", "type": "nominal", "scale": {"domain": ["ND", "HFD", "HFD+PS"], "range": ["#000000", "#b07272", "#6e9e78"]}, "legend": null}}},
       {"mark": {"type": "rule", "clip": true, "color": "#000", "strokeWidth": 1.2}, "encoding": {"y": {"field": "m", "type": "quantitative"}, "y2": {"field": "hi"}}},
       {"mark": {"type": "tick", "clip": true, "color": "#000", "size": 13, "thickness": 1.2}, "encoding": {"y": {"field": "hi", "type": "quantitative"}}},
       {"data": {"name": "sig"}, "transform": [{"filter": "datum.p=='h'"}], "mark": {"type": "rule", "color": "#000", "strokeWidth": 1.2, "xOffset": -3, "x2Offset": -3},
        "encoding": {"x": {"field": "from", "type": "nominal"}, "x2": {"field": "to"}, "y": {"field": "y", "type": "quantitative"}}},
       {"data": {"name": "sig"}, "transform": [{"filter": "datum.p=='h'"}], "mark": {"type": "text", "dx": 17, "dy": -2, "baseline": "bottom", "fontSize": 10},
        "encoding": {"x": {"field": "from", "type": "nominal"}, "y": {"field": "y", "type": "quantitative"}, "text": {"field": "lab"}}}
      ]
     },
     {
      "width": 138, "height": 27,
      "data": {"name": "bars"}, "transform": [{"filter": "datum.p=='h'"}],
      "encoding": {"x": {"field": "g", "type": "nominal", "scale": {"domain": ["ND", "HFD", "HFD+PS"], "paddingInner": 0.31, "paddingOuter": 0.35, "align": 0.512}, "axis": {"labelAngle": -45, "title": "(h)", "titleFontSize": 13, "titleX": 42.7, "titleY": 67, "minExtent": 88}}},
      "layer": [
       {"mark": {"type": "bar", "clip": true, "strokeWidth": 1},
        "encoding": {"y": {"field": "m", "type": "quantitative", "scale": {"domain": [0, 0.0229], "nice": false}, "axis": {"values": [0, 0.02], "format": ".2f", "title": null, "labelPadding": 4}},
         "color": {"field": "g", "type": "nominal", "scale": {"domain": ["ND", "HFD", "HFD+PS"], "range": ["#000000", "#560000", "#003a12"]}, "legend": null},
         "stroke": {"field": "g", "type": "nominal", "scale": {"domain": ["ND", "HFD", "HFD+PS"], "range": ["#000000", "#b07272", "#6e9e78"]}, "legend": null}}},
       {"mark": {"type": "rule", "clip": true, "color": "#000", "strokeWidth": 1.2}, "encoding": {"y": {"field": "m", "type": "quantitative"}, "y2": {"field": "hi"}}},
       {"mark": {"type": "tick", "clip": true, "color": "#000", "size": 13, "thickness": 1.2}, "encoding": {"y": {"field": "hi", "type": "quantitative"}}}
      ]
     }
    ],
    "spacing": 12, "bounds": "flush",
    "resolve": {"scale": {"x": "independent", "y": "independent", "color": "independent", "stroke": "independent"}}
   }
  ],
  "spacing": 0,
  "resolve": {"scale": {"x": "independent", "y": "independent", "color": "independent", "stroke": "independent"}}
 },
 {
  "hconcat": [
   {"width": 34, "height": 1, "data": {"values": []}, "mark": "point"},
   {
    "width": 498, "height": 494,
    "data": {"name": "corr"},
    "title": {"text": "(i)", "orient": "bottom", "frame": "group", "offset": 6},
    "encoding": {
     "x": {"field": "c", "type": "ordinal", "scale": {"paddingInner": 0, "paddingOuter": 0},
      "axis": {"orient": "top", "title": null, "ticks": false, "tickSize": 0, "domain": false, "labelAngle": -30, "labelAlign": "left", "labelBaseline": "alphabetic", "labelPadding": 7, "labelFontSize": 12, "minExtent": 80,
       "labelExpr": "['Bacillus','Bifidobacterium','Lactobacillus','Lactococcus','Streptococcus','Lactobacillus_vaginalis','CYP27A1','CYP7A1','CYP7B1','CYP8B1','Serum HDL–C','Serum LDL–C','Serum TC','Serum TG'][datum.value]"}},
     "y": {"field": "r", "type": "ordinal", "scale": {"paddingInner": 0, "paddingOuter": 0},
      "axis": {"title": null, "ticks": false, "tickSize": 0, "domain": false, "labelPadding": 5, "labelFontSize": 12, "minExtent": 130,
       "labelExpr": "['Bacillus','Bifidobacterium','Lactobacillus','Lactococcus','Streptococcus','Lactobacillus_vaginalis','CYP27A1','CYP7A1','CYP7B1','CYP8B1','Serum HDL–C','Serum LDL–C','Serum TC','Serum TG'][datum.value]"}}
    },
    "layer": [
     {"transform": [{"filter": "datum.c < datum.r"}], "mark": {"type": "rect"},
      "encoding": {"color": {"field": "v", "type": "quantitative",
       "scale": {"domain": [-1, -0.5, -0.2, 0, 0.2, 0.5, 0.8, 1], "range": ["#3a1604", "#8c5f35", "#c9ab87", "#ede4ce", "#b9cbbb", "#4f8c7a", "#0d4a3c", "#00221b"]},
       "legend": {"orient": "none", "legendX": 516, "legendY": 0, "direction": "vertical", "gradientLength": 494, "gradientThickness": 20, "title": null, "values": [-1, -0.5, 0, 0.5, 1], "format": "~g", "labelFontSize": 12, "gradientStrokeColor": "#000", "gradientStrokeWidth": 1, "labelOffset": 8, "labelOverlap": false}}}},
     {"transform": [{"filter": "datum.c >= datum.r"}], "mark": {"type": "rect", "fill": "#ffffff", "stroke": "#9b9b9b", "strokeWidth": 1.5}},
     {"transform": [{"filter": "datum.c >= datum.r"}], "mark": {"type": "text", "fontSize": 12},
      "encoding": {"text": {"field": "v", "type": "quantitative", "format": ".2f"}, "color": {"field": "v", "type": "quantitative"}}},
     {"transform": [{"filter": "datum.s == 1"}], "mark": {"type": "text", "text": "*", "fontSize": 11, "color": "#111", "dy": 3}}
    ]
   }
  ],
  "spacing": 0,
  "resolve": {"scale": {"x": "independent", "y": "independent", "color": "independent", "stroke": "independent"}}
 }
]
}
